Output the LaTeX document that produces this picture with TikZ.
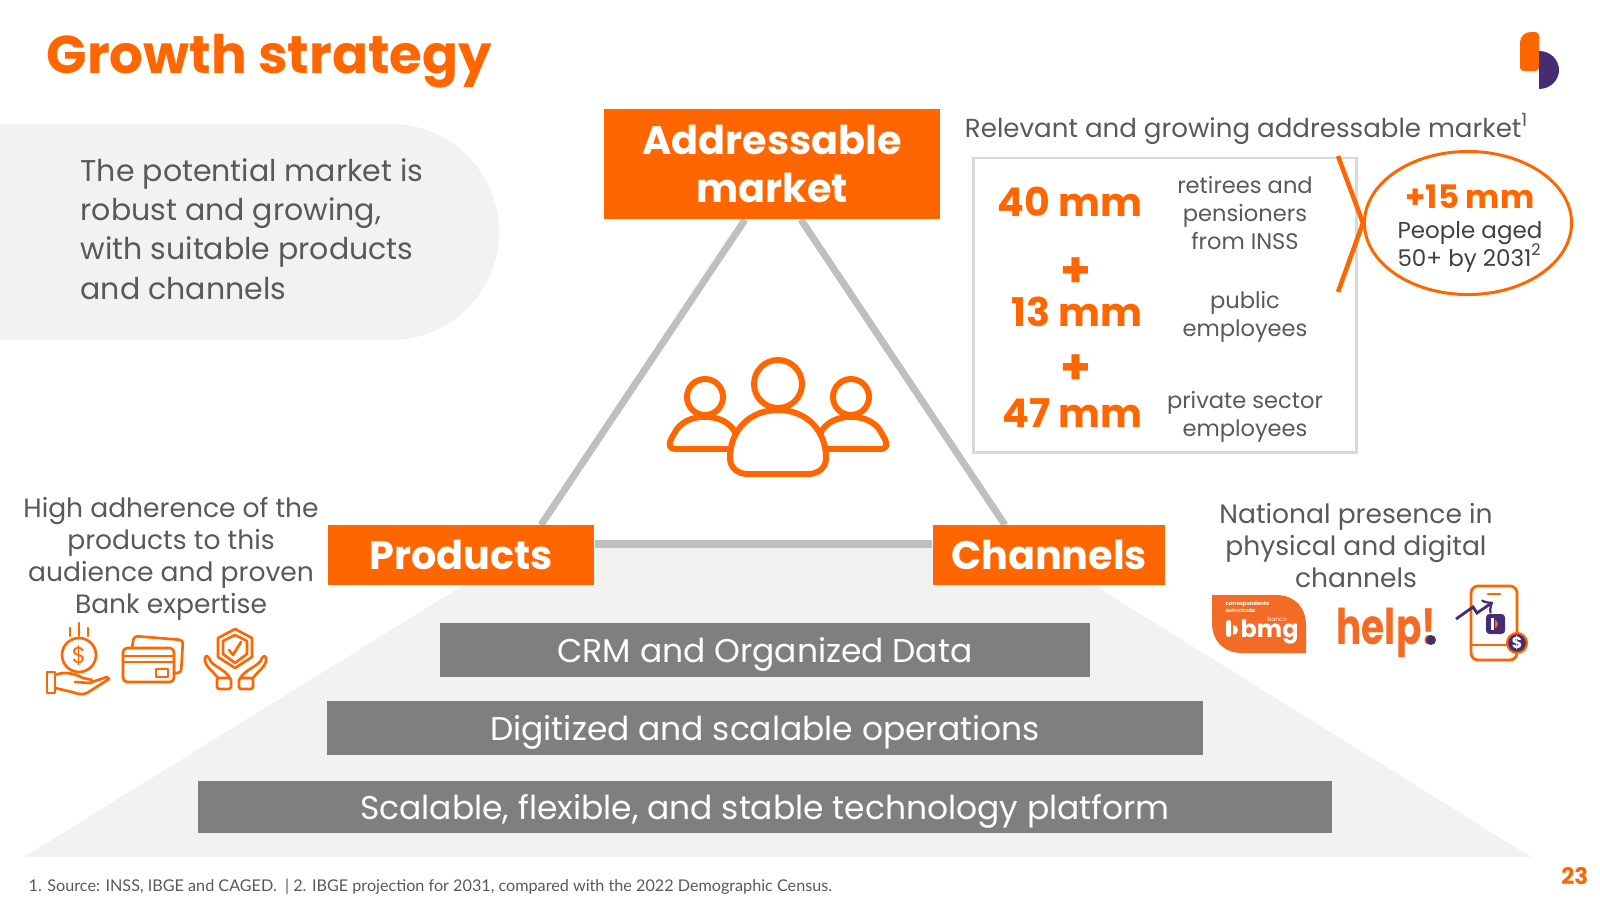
\documentclass[tikz,border=0pt]{standalone}
\usepackage{fontspec}
\setmainfont{Poppins}
\newfontfamily\footfont{Lato}
\usetikzlibrary{positioning,calc,backgrounds,shapes.geometric}
\definecolor{orange10}{RGB}{255, 102, 0}
\definecolor{badge10}{RGB}{243, 107, 36}
\definecolor{purple10}{RGB}{70, 44, 112}
\definecolor{gray10}{RGB}{242, 242, 242}
\definecolor{gray20}{RGB}{127, 127, 127}
\definecolor{gray30}{RGB}{191, 191, 191}
\definecolor{gray40}{RGB}{217, 217, 217}
\definecolor{text10}{RGB}{89, 89, 89}
\definecolor{text20}{RGB}{64, 64, 64}
\tikzset{
  headbox/.style={fill=orange10, text=white, inner sep=0pt, align=center, font=\bfseries\fontsize{11.3}{13.65}\selectfont},
  layerbar/.style={fill=gray20, text=white, inner sep=0pt, text height=7.1pt, text depth=0pt, font=\fontsize{9.36}{11}\selectfont},
  bigtext/.style={text=text10, align=center, font=\fontsize{7.55}{9.1}\selectfont},
  smalltext/.style={text=text10, align=center, font=\fontsize{6.42}{7.9}\selectfont},
  bignum/.style={text=orange10, font=\bfseries\fontsize{11.25}{13}\selectfont},
  plus/.style={text=orange10, font=\bfseries\fontsize{14}{16}\selectfont},
  iconline/.style={draw=orange10, line width=0.75pt, line join=round, line cap=round},
  peopleline/.style={draw=orange10, line width=1.7pt, fill=white, line join=round},
  triline/.style={draw=gray30, line width=2pt},
}
\begin{document}
\begin{tikzpicture}[x=0.01cm, y=-0.01cm]
  \useasboundingbox (0,0) rectangle (1600,900);
  \begin{scope}[on background layer]
    \fill[gray10] (0,124) -- (391,124) arc (-90:90:108) -- (0,340) -- cycle;
    \fill[gray10] (24,857) -- (530,544) -- (1028,544) -- (1531,857) -- cycle;
  \end{scope}

  % title and logo
  \node[anchor=base west, inner sep=0pt, text=orange10, font=\bfseries\fontsize{15.1}{18}\selectfont] (title) at (46,73) {Growth strategy};
  \fill[orange10] (1539,71) [rounded corners=1pt] -- (1520,71) [rounded corners=3pt] -- (1520,32) [rounded corners=1pt] -- (1539,32) -- cycle;
  \fill[purple10] (1539,51) arc (-90:90:20 and 19) -- cycle;

  % left texts
  \node[bigtext, anchor=west, align=left, inner sep=0pt, font=\fontsize{8.53}{11.2}\selectfont] (potential) at (80,229) {The potential market is\\robust and growing,\\with suitable products\\and channels};
  \node[bigtext] (adherence) at (171,559) {High adherence of the\\products to this\\audience and proven\\Bank expertise};
  \node[bigtext] (presence) at (1356,546) {National presence in\\physical and digital\\channels};

  % triangle
  \node[headbox, minimum width=3.36cm, minimum height=1.10cm] (addressable) at (772,164) {Addressable\\market};
  \node[headbox, minimum width=2.66cm, minimum height=0.60cm] (products) at (461,555) {Products};
  \node[headbox, minimum width=2.32cm, minimum height=0.60cm] (channels) at (1049,555) {Channels};
  \coordinate (leftfoot) at (541,525);
  \coordinate (rightfoot) at (1005,525);
  \begin{scope}[on background layer]
    \draw[triline] ($(addressable.south)+(-27,0)$) -- (leftfoot);
    \draw[triline] ($(addressable.south)+(29,0)$) -- (rightfoot);
    \draw[triline] ($(products.east)+(0,-11)$) -- ($(channels.west)+(0,-11)$);
  \end{scope}

  % people
  \draw[peopleline] (705,397) circle (18);
  \draw[peopleline] (851,397) circle (18);
  \draw[peopleline] (676,449) .. controls (666,449) and (670,440) .. (674,434) .. controls (684,411) and (726,411) .. (736,434) -- (744,449) -- cycle;
  \draw[peopleline] (880,449) .. controls (890,449) and (886,440) .. (882,434) .. controls (872,411) and (830,411) .. (820,434) -- (812,449) -- cycle;
  \draw[peopleline] (778,384) circle (24);
  \draw[peopleline] (748,474) .. controls (738,474) and (730,468) .. (730,458) .. controls (730,430) and (750,410) .. (778,410) .. controls (806,410) and (826,430) .. (826,458) .. controls (826,468) and (818,474) .. (808,474) -- cycle;

  % layers
  \node[layerbar, minimum width=6.50cm, minimum height=0.53cm] (crm) at (765,650) {CRM and Organized Data};
  \node[layerbar, minimum width=8.76cm, minimum height=0.53cm] (digitized) at (765,728) {Digitized and scalable operations};
  \node[layerbar, minimum width=11.34cm, minimum height=0.52cm] (scalable) at (765,807) {Scalable, flexible, and stable technology platform};

  % market box
  \node[smalltext, anchor=base, font=\fontsize{7.42}{9}\selectfont] (relevant) at (1247,137) {Relevant and growing addressable market\textsuperscript{1}};
  \draw[gray40, line width=0.85pt] (973,158) rectangle (1356,452);
  \node[bignum, anchor=east] (forty) at (1155,202) {40 mm};
  \node[plus] (plusa) at (1076,273) {+};
  \node[bignum, anchor=east] (thirteen) at (1155,312) {13 mm};
  \node[plus] (plusb) at (1076,370) {+};
  \node[bignum, anchor=east] (fortyseven) at (1155,413) {47 mm};
  \node[smalltext] (retirees) at (1245,213) {retirees and\\pensioners\\from INSS};
  \node[smalltext] (public) at (1245,317) {public\\employees};
  \node[smalltext] (private) at (1245,417) {private sector\\employees};

  % +15 mm
  \node[draw=orange10, line width=0.85pt, ellipse, minimum width=2.07cm, minimum height=1.43cm, inner sep=0pt] (aged) at (1468,223) {};
  \coordinate (bracetop) at (1338,156);
  \coordinate (bracebot) at (1338,292);
  \draw[orange10, line width=1.3pt] (bracetop) -- (aged.west) -- (bracebot);
  \node[bignum, font=\bfseries\fontsize{9.2}{11}\selectfont] (fifteen) at (1470,197) {+15 mm};
  \node[smalltext, text=text20, font=\fontsize{6.54}{7.9}\selectfont] (people) at (1470,247) {People aged\\50+ by 2031\smash{\textsuperscript{2}}};

  % product icons
  \draw[iconline] (79,655) circle (17);
  \node[text=orange10, inner sep=0pt, font=\fontsize{6.5}{8}\selectfont] (dollar) at (79,655) {\$};
  \draw[iconline] (79,623) -- (79,636) (70,628) -- (70,636) (88,628) -- (88,636);
  \draw[iconline] (47,672) rectangle (55,693);
  \draw[iconline] (55,675) .. controls (62,672) and (72,672) .. (83,678) -- (92,680) .. controls (93,682) and (92,683) .. (90,683) -- (75,682) (92,682) -- (107,677) -- (109,679) -- (87,693) .. controls (82,695) and (78,694) .. (72,692) -- (55,688);
  \draw[iconline, rounded corners=1pt] (132,648) -- (134,636) -- (183,640) -- (181,673) -- (174,673);
  \draw[iconline, rounded corners=1.2pt] (123,648) rectangle (174,682);
  \draw[iconline] (123,656) -- (174,656) (123,662) -- (174,662);
  \draw[iconline] (156,669) rectangle (168,677);
  \draw[iconline] (235,629) -- (252,638) -- (252,657) -- (235,668) -- (218,657) -- (218,638) -- cycle;
  \draw[iconline] (235,635) -- (247,641) -- (247,654) -- (235,663) -- (223,654) -- (223,641) -- cycle;
  \draw[iconline] (229,650) -- (233,655) -- (241,642);
  \draw[iconline] (218,678) .. controls (212,670) and (204,666) .. (205,658) .. controls (206,655) and (208,656) .. (209,658) .. controls (211,666) and (224,668) .. (230,678);
  \draw[iconline] (253,678) .. controls (259,670) and (267,666) .. (266,658) .. controls (265,655) and (263,656) .. (262,658) .. controls (260,666) and (247,668) .. (240,678);
  \draw[iconline, rounded corners=0.5pt] (217,678) rectangle (231,689);
  \draw[iconline, rounded corners=0.5pt] (239,678) rectangle (253,689);

  % channel icons
  \fill[badge10] (1212,595) -- (1276,595) .. controls (1294,595) and (1306,607) .. (1306,625) -- (1306,653) -- (1242,653) .. controls (1224,653) and (1212,641) .. (1212,623) -- cycle;
  \node[text=white, anchor=west, align=left, inner sep=0pt, font=\bfseries\fontsize{1.5}{1.9}\selectfont] (correspondent) at (1225,607) {correspondente\\autorizado};
  \node[text=white, anchor=base west, inner sep=0pt, text height=4.5pt, font=\bfseries\fontsize{6.8}{8}\selectfont] (bmg) at (1240,637) {bmg};
  \node[text=white, anchor=base, inner sep=0pt, font=\fontsize{1.7}{2}\selectfont] (banco) at (1277,621) {banco};
  \fill[white, rounded corners=0.5pt] (1226,620) rectangle (1231,637);
  \fill[white] (1233,625) arc (-90:90:5) -- cycle;
  \node[text=badge10, anchor=base west, inner sep=0pt, font=\bfseries\fontsize{14}{16}\selectfont] (help) at (1336,644) {\scalebox{0.76}[1]{help!}};
  \fill[purple10] (1431,640) circle (5);
  \draw[iconline, line width=0.8pt, rounded corners=2pt] (1471,586) rectangle (1517,660);
  \draw[iconline] (1471,645) -- (1517,645) (1488,594) -- (1500,594);
  \draw[purple10, line width=0.8pt, ->] (1456,619) -- (1473,607) -- (1477,613) -- (1493,602);
  \fill[purple10, rounded corners=1pt] (1486,614) rectangle (1505,634);
  \fill[white] (1491,618) rectangle (1494,630);
  \fill[orange10] (1495,620) arc (-90:90:3 and 4) -- cycle;
  \filldraw[fill=purple10, draw=orange10, line width=0.6pt] (1517,643) circle (10);
  \node[text=white, inner sep=0pt, font=\bfseries\fontsize{4.5}{5}\selectfont] (coin) at (1517,643) {\$};

  % footer
  \node[anchor=base west, inner sep=0pt, text=text10, font=\footfont\fontsize{4.6}{6}\selectfont] (sources) at (28,891) {1. Source: INSS, IBGE and CAGED.~~| 2. IBGE projection for 2031, compared with the 2022 Demographic Census.};
  \node[anchor=base east, inner sep=0pt, text=orange10, font=\bfseries\fontsize{6.5}{8}\selectfont] (page) at (1589,884) {23};
\end{tikzpicture}
\end{document}
